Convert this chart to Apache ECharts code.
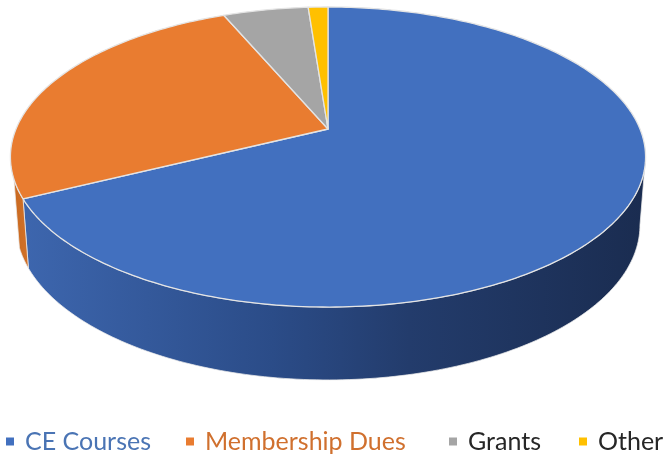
<!DOCTYPE html>
<html>
<head>
<meta charset="utf-8">
<style>html,body{margin:0;padding:0;background:#fff}#chart{width:668px;height:459px}</style>
<script src="https://cdn.jsdelivr.net/npm/echarts@6/dist/echarts.min.js"></script>
</head>
<body>
<div id="chart"></div>
<script>
// Revenue share by source
const categories = ['CE Courses', 'Membership Dues', 'Grants', 'Other'];
const shares = [67.7, 25.9, 5.2, 1.2];
const topColors = ['#4270BF', '#E97C30', '#A5A5A5', '#FFC000'];
const legendTextColors = ['#4A74B4', '#D0702E', '#262626', '#262626'];
const legendLefts = [1, 181, 444, 574];
const wallStops = [
  [[0, '#3D66AE'], [0.4, '#2B4C88'], [0.62, '#233C6C'], [1, '#1A2C50']],
  [[0, '#C9691F'], [1, '#D2722A']],
  null,
  null
];

// Tilted-disc projection: a unit circle seen in perspective, with near edge larger.
const TILT = 0.1867;
const topDisc = { cx: 328, cy: 129, a: 312, b: 144.8 };
const baseDisc = { cx: 328, cy: 196, a: 306.5, b: 149.6 };
// Clockwise angles (degrees from twelve o'clock) bounding the visible side wall.
const WALL_START = 100.8;
const WALL_END = 251;

function project(disc, deg) {
  const r = deg * Math.PI / 180;
  const u = Math.sin(r), v = Math.cos(r), w = 1 + TILT * v;
  return [disc.cx + disc.a * u / w, disc.cy - disc.b * v / w];
}
function arc(disc, from, to) {
  const n = Math.max(2, Math.ceil(Math.abs(to - from)));
  const pts = [];
  for (let i = 0; i <= n; i++) pts.push(project(disc, from + (to - from) * i / n));
  return pts;
}

const total = shares.reduce((s, x) => s + x, 0);
function startAngle(index) {
  let sum = 0;
  for (let i = 0; i < index; i++) sum += shares[i];
  return sum / total * 360;
}

function renderSlice(index) {
  return function (params, api) {
    const from = startAngle(index);
    const to = from + api.value(0) / total * 360;
    const children = [];
    // Side wall: only the part of the rim facing the viewer.
    const wallFrom = Math.max(from, WALL_START), wallTo = Math.min(to, WALL_END);
    if (wallStops[index] && wallTo > wallFrom) {
      const pts = arc(topDisc, wallFrom, wallTo).concat(arc(baseDisc, wallTo, wallFrom));
      children.push({
        type: 'polygon',
        shape: { points: pts },
        style: {
          fill: new echarts.graphic.LinearGradient(0, 0, 1, 0,
            wallStops[index].map(s => ({ offset: s[0], color: s[1] }))),
          stroke: 'rgba(235,235,235,0.75)',
          lineWidth: 1
        }
      });
    }
    // Top face of the slice.
    children.push({
      type: 'polygon',
      shape: { points: [[topDisc.cx, topDisc.cy]].concat(arc(topDisc, from, to)) },
      style: { fill: topColors[index], stroke: '#E4E4E4', lineWidth: 1.3, lineJoin: 'round' }
    });
    return { type: 'group', children };
  };
}

const chart = echarts.init(document.getElementById('chart'), null, { renderer: 'canvas' });
chart.setOption({
  animation: false,
  backgroundColor: '#fff',
  legend: categories.map((name, i) => ({
    left: legendLefts[i],
    top: 424,
    icon: 'rect',
    itemWidth: 8,
    itemHeight: 8,
    selectedMode: false,
    data: [{
      name,
      textStyle: {
        color: legendTextColors[i],
        fontFamily: 'Lato',
        fontSize: 25,
        padding: [0, 0, 0, 6]
      }
    }]
  })),
  series: categories.map((name, i) => ({
    type: 'custom',
    name,
    coordinateSystem: 'none',
    silent: true,
    itemStyle: { color: topColors[i] },
    renderItem: renderSlice(i),
    data: [[shares[i]]]
  }))
});
</script>
</body>
</html>
